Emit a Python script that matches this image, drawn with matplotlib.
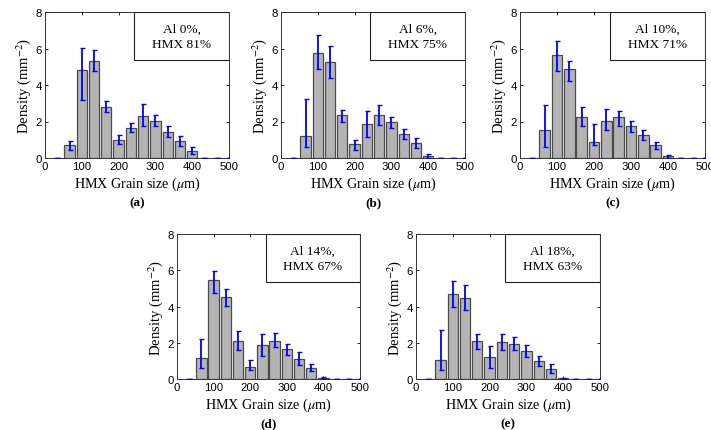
import numpy as np
import matplotlib
matplotlib.use("Agg")
import matplotlib.pyplot as plt
from matplotlib.patches import Rectangle

plt.rcParams['mathtext.fontset'] = 'stix'

# bin centres (um)
grain_size = [33.3, 66.7, 100, 133.3, 166.7, 200, 233.3, 266.7, 300, 333.3, 366.7, 400, 433.3, 466.7, 500]

# (a) Al 0%, HMX 81%
a_density = [0, 0.69, 4.82, 5.29, 2.80, 0.98, 1.67, 2.31, 2.02, 1.45, 0.91, 0.40, 0, 0, 0]
a_low = [0, 0.45, 3.18, 4.75, 2.50, 0.75, 1.40, 1.78, 1.75, 1.16, 0.67, 0.20, 0, 0, 0]
a_high = [0, 0.95, 6.02, 5.90, 3.10, 1.25, 1.93, 2.95, 2.36, 1.76, 1.22, 0.62, 0, 0, 0]

# (b) Al 6%, HMX 75%
b_density = [0, 1.20, 5.76, 5.25, 2.38, 0.76, 1.85, 2.33, 1.95, 1.31, 0.80, 0.11, 0, 0, 0]
b_low = [0, 0.58, 4.89, 4.36, 1.96, 0.45, 1.13, 1.80, 1.64, 1.04, 0.56, 0.00, 0, 0, 0]
b_high = [0, 3.22, 6.76, 6.13, 2.62, 0.98, 2.58, 2.89, 2.27, 1.60, 1.11, 0.20, 0, 0, 0]

# (c) Al 10%, HMX 71%
c_density = [0, 1.53, 5.64, 4.85, 2.27, 0.89, 2.05, 2.22, 1.73, 1.27, 0.69, 0.11, 0, 0, 0]
c_low = [0, 0.62, 4.76, 4.20, 1.78, 0.69, 1.55, 1.75, 1.44, 0.96, 0.51, 0.02, 0, 0, 0]
c_high = [0, 2.91, 6.40, 5.29, 2.82, 1.84, 2.67, 2.55, 2.04, 1.56, 0.89, 0.18, 0, 0, 0]

# (d) Al 14%, HMX 67%
d_density = [0, 1.18, 5.44, 4.53, 2.09, 0.67, 1.85, 2.11, 1.65, 1.11, 0.62, 0.07, 0, 0, 0]
d_low = [0, 0.58, 4.73, 4.04, 1.60, 0.49, 1.27, 1.78, 1.33, 0.78, 0.42, 0.02, 0, 0, 0]
d_high = [0, 2.18, 5.98, 4.95, 2.64, 1.04, 2.47, 2.55, 1.93, 1.51, 0.85, 0.11, 0, 0, 0]

# (e) Al 18%, HMX 63%
e_density = [0, 1.05, 4.70, 4.45, 2.12, 1.22, 2.03, 1.92, 1.53, 0.98, 0.55, 0.05, 0, 0, 0]
e_low = [0, 0.50, 4.00, 3.80, 1.65, 0.60, 1.60, 1.60, 1.22, 0.70, 0.33, 0.02, 0, 0, 0]
e_high = [0, 2.70, 5.40, 5.18, 2.48, 1.82, 2.47, 2.33, 1.85, 1.25, 0.84, 0.08, 0, 0, 0]

labels = ["Al 0%,\nHMX 81%", "Al 6%,\nHMX 75%", "Al 10%,\nHMX 71%", "Al 14%,\nHMX 67%", "Al 18%,\nHMX 63%"]
tags = ["(a)", "(b)", "(c)", "(d)", "(e)"]

W, H = 711, 431
# axes boxes in pixels: left, top, right, bottom
boxes = [(45, 13, 229, 159), (281, 13, 465, 159), (520, 13, 705, 159),
         (177, 235, 360, 380), (416, 235, 600, 380)]

fig = plt.figure(figsize=(W / 100, H / 100), dpi=100)

panels = [(a_density, a_low, a_high), (b_density, b_low, b_high), (c_density, c_low, c_high),
          (d_density, d_low, d_high), (e_density, e_low, e_high)]

for (dens, low, high), box, lab, tag in zip(panels, boxes, labels, tags):
    l, t, r, b = box
    ax = fig.add_axes([l / W, (H - b) / H, (r - l) / W, (b - t) / H])
    dens = np.array(dens)
    yerr = [dens - np.array(low), np.array(high) - dens]
    ax.bar(grain_size, dens, width=28, color='#b4b4b4', edgecolor='#4a4a4a', linewidth=0.9, zorder=2)
    ax.errorbar(grain_size, dens, yerr=yerr, fmt='none', ecolor='#0000ff', elinewidth=1.3,
                capsize=1.8, capthick=1.0, zorder=3)
    ax.set_xlim(0, 500)
    ax.set_ylim(0, 8)
    ax.set_xticks([0, 100, 200, 300, 400, 500])
    ax.set_yticks([0, 2, 4, 6, 8])
    ax.tick_params(direction='in', length=2.5, width=0.6, top=True, right=True,
                   labelsize=8.2, pad=2)
    for lbl in ax.get_xticklabels() + ax.get_yticklabels():
        lbl.set_fontfamily('Liberation Sans')
    for s in ax.spines.values():
        s.set_linewidth(0.7)
        s.set_color('#333333')
    ax.set_xlabel(r"HMX Grain size ($\mu$m)", fontfamily='Liberation Serif', fontsize=10.2, labelpad=3)
    ax.set_ylabel(r"Density (mm$^{-2}$)", fontfamily='Liberation Serif', fontsize=10.5, labelpad=2)
    ax.add_patch(Rectangle((0.485, 0.67), 0.515, 0.33, transform=ax.transAxes,
                           facecolor='white', edgecolor='#222222', linewidth=0.8, zorder=4))
    ax.text(0.7425, 0.835, lab, transform=ax.transAxes, ha='center', va='center',
            fontfamily='Liberation Serif', fontsize=9.6, linespacing=1.35, zorder=5)
    fig.text((l + r) / 2 / W, 1 - (b + 44) / H, tag, ha='center', va='center',
             fontfamily='Liberation Serif', fontweight='bold', fontsize=9.5)

fig.savefig("out.png", dpi=100)
